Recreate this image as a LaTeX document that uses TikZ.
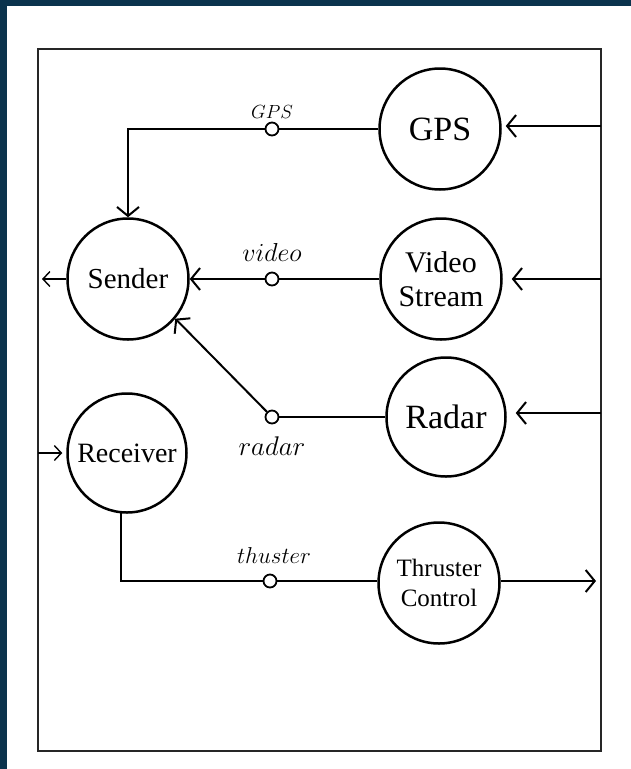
\RequirePackage{fix-cm}
\documentclass[tikz,border=0pt]{standalone}
\usepackage{fontspec}
\setmainfont{Liberation Serif}
\usetikzlibrary{arrows.meta}
\definecolor{navy}{HTML}{0B334D}
\begin{document}
\begin{tikzpicture}[x=1pt,y=-1pt,
  state/.style={circle, draw, line width=2.5pt, minimum size=121pt, inner sep=0pt, align=center},
  junc/.style={circle, draw, line width=1.8pt, fill=white, minimum size=13pt, inner sep=0pt},
  lab/.style={inner sep=0pt},
  conn/.style={line width=2pt},
  thinconn/.style={line width=1.4pt},
  arr/.style={-{Straight Barb[length=9pt,width=22pt]}},
  smallarr/.style={-{Straight Barb[length=7pt,width=15pt]}}]
\fill[navy] (0,0) rectangle (631,769);
\fill[white] (7,6) rectangle (631,769);
\draw[line width=2pt, black!85] (38,49) rectangle (601,751);
\useasboundingbox (0,0) rectangle (631,769);

\node[state, font=\fontsize{34}{38}\selectfont] (gps) at (440,129) {GPS};
\node[state, font=\fontsize{30}{34}\selectfont] (video) at (441,279) {Video\\Stream};
\node[state, minimum size=119pt, font=\fontsize{34}{38}\selectfont] (radar) at (446,417) {Radar};
\node[state, font=\fontsize{25}{30}\selectfont] (thr) at (439,583) {Thruster\\Control};
\node[state, font=\fontsize{29}{34}\selectfont] (sender) at (128,279) {Sender};
\node[state, minimum size=119pt, font=\fontsize{28}{32}\selectfont] (recv) at (127,453) {Receiver};

\node[junc] (jg) at (272,129) {};
\node[junc] (jv) at (272,279) {};
\node[junc] (jr) at (272,417) {};
\node[junc] (jt) at (270,581) {};

\node[lab, font=\fontsize{19}{22}\selectfont] (lg) at (272,112) {$GPS$};
\node[lab, font=\fontsize{26}{30}\selectfont] (lv) at (272,252) {$video$};
\node[lab, font=\fontsize{27}{30}\selectfont] (lr) at (272,446) {$radar$};
\node[lab, font=\fontsize{23}{27}\selectfont] (lt) at (274,556) {$thuster$};

\coordinate (gin) at (601,126);
\coordinate (vin) at (601,279);
\coordinate (rin) at (601,413);
\coordinate (tout) at (596,581);
\coordinate (sout) at (42,279);
\coordinate (rcin) at (38,453);
\coordinate (gend) at (gps.east |- gin);
\coordinate (rend) at (radar.east |- rin);

\draw[conn] (gps.west) -- (jg.east);
\draw[conn, arr] (jg.west) -| (sender.north);
\draw[conn] (video.west) -- (jv.east);
\draw[conn, arr] (jv.west) -- (sender.east);
\draw[conn] (radar.west) -- (jr.east);
\draw[conn, arr] (jr) -- (sender.-40);
\draw[conn, arr, shorten >=4pt] (gin) -- (gend);
\draw[conn, arr, shorten >=9pt] (vin) -- (video.east);
\draw[conn, arr, shorten >=9pt] (rin) -- (rend);
\draw[conn] (recv.264) |- (jt.west);
\draw[conn] (jt.east) -- (thr.west |- jt);
\draw[conn, arr] (thr.east |- jt) -- (tout);
\draw[thinconn, smallarr] (sender.west) -- (sout);
\draw[thinconn, smallarr, shorten >=4pt] (rcin) -- (recv.west);
\end{tikzpicture}
\end{document}
